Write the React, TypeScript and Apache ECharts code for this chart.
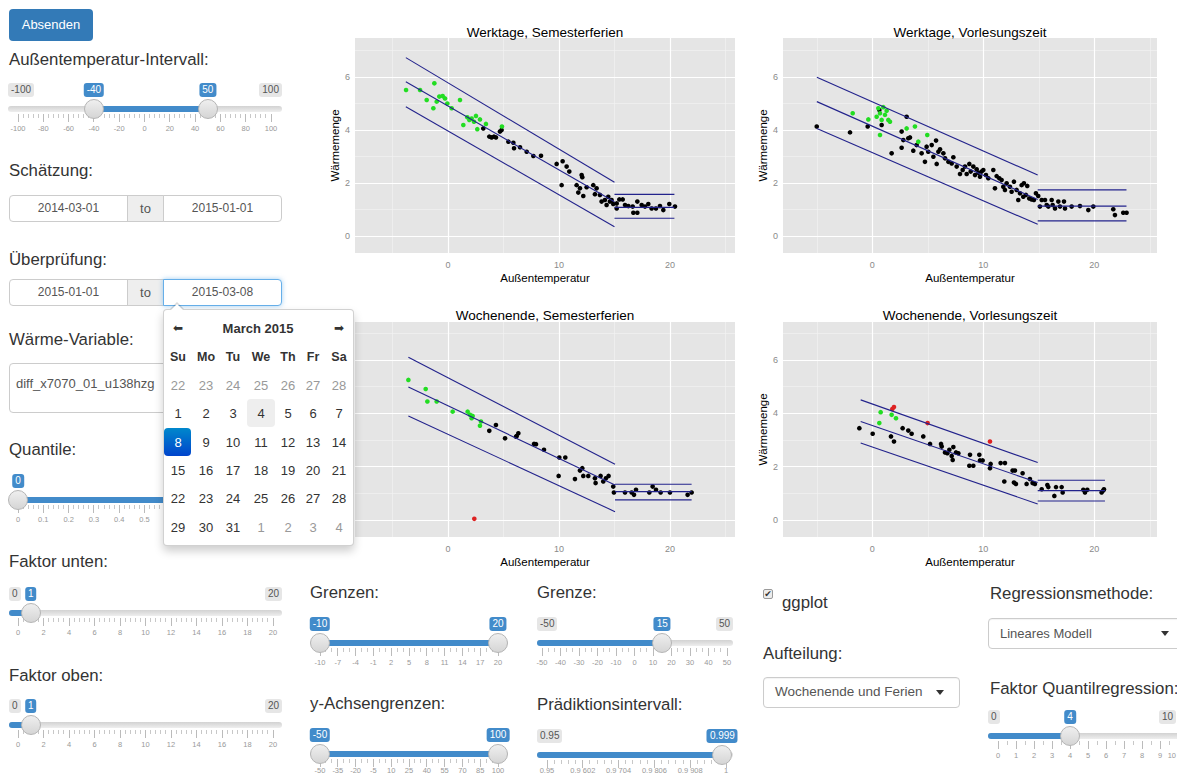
import React, { useEffect, useRef } from "react";
import * as echarts from "echarts";

// ---------------- chart data ----------------
const xTicks = [0, 10, 20];
const xMinorTicks = [-5, 5, 15, 25];
const yTicks = [0, 2, 4, 6];
const yMinorTicks = [1, 3, 5, 7];
const panelTitles = [
  "Werktage, Semesterferien",
  "Werktage, Vorlesungszeit",
  "Wochenende, Semesterferien",
  "Wochenende, Vorlesungszeit",
];
const xName = "Außentemperatur";
const yName = "Wärmemenge";

// Werktage, Semesterferien
const green1 = [[-3.78,5.51],[-2.52,5.51],[-1.92,5.13],[-1.23,5.76],[-1.32,4.82],[-1.02,5.07],[-0.78,5.26],[-0.48,5.28],[-0.27,5.19],[-0.06,5.0],[0.33,4.82],[1.08,5.13],[1.38,4.19],[1.74,4.48],[1.92,4.38],[2.13,4.43],[2.34,4.31],[2.52,4.53],[2.64,4.03],[2.88,4.4],[3.42,4.23],[4.86,4.13]];
const black1 = [[3.18,4.06],[3.72,3.75],[3.93,3.72],[4.14,3.75],[4.32,3.72],[4.68,3.94],[4.83,4.0],[5.44,3.56],[5.89,3.52],[5.95,3.31],[6.49,3.35],[7.09,3.18],[7.69,3.02],[8.38,3.03],[9.79,2.72],[10.33,2.82],[10.24,1.92],[10.69,2.62],[10.93,2.43],[11.59,1.92],[11.74,1.64],[12.04,2.3],[12.1,2.22],[12.19,1.51],[11.89,1.8],[12.49,1.84],[13.09,1.92],[13.39,1.8],[13.24,1.58],[13.69,1.55],[13.84,1.3],[14.14,1.36],[14.29,1.17],[14.44,1.48],[14.59,1.3],[14.74,1.36],[14.89,1.21],[15.2,1.23],[15.2,1.04],[15.44,1.38],[15.74,1.38],[15.95,1.17],[16.25,1.13],[16.64,1.11],[16.7,0.88],[17.06,0.88],[17.06,1.3],[17.45,1.17],[17.75,1.11],[18.05,1.21],[18.35,1.04],[18.74,1.04],[19.1,1.13],[19.4,0.98],[19.94,1.21],[20.45,1.11]];
const red1: number[][] = [];
const fitX1 = [-3.8, 15.0];
const fitLo1 = [4.88, 0.35];
const fitMid1 = [5.82, 1.29];
const fitHi1 = [6.73, 2.03];
const flatX1 = [15.0, 20.4];
const flatY1 = [0.67, 1.08, 1.57];

// Werktage, Vorlesungszeit
const green2 = [[-1.77,4.63],[-0.36,4.4],[0.39,4.5],[0.54,4.82],[0.69,4.63],[0.84,4.38],[0.69,3.81],[0.99,4.86],[1.14,4.57],[1.29,4.73],[1.44,4.38],[1.59,4.31],[3.09,4.06],[3.84,4.13],[4.14,3.56],[4.95,3.81]];
const black2 = [[-5.01,4.13],[-2.01,3.91],[-0.42,4.13],[0.63,4.75],[0.84,4.19],[1.74,3.12],[2.64,3.94],[2.64,3.33],[2.79,3.62],[3.09,4.5],[3.24,3.69],[3.39,3.72],[3.69,3.22],[3.99,3.43],[4.44,3.12],[4.74,2.8],[4.89,3.37],[5.04,3.18],[5.35,3.43],[5.5,2.99],[5.74,3.6],[5.8,2.72],[5.95,3.18],[6.1,3.27],[6.4,3.12],[6.55,2.93],[6.85,2.8],[7.15,2.74],[7.3,2.97],[7.6,2.62],[7.9,2.34],[8.14,2.49],[8.35,2.62],[8.5,2.34],[8.74,2.72],[8.86,2.43],[9.1,2.62],[9.25,2.3],[9.4,2.52],[9.55,2.39],[9.7,2.24],[9.85,2.43],[10.0,2.49],[10.24,2.3],[10.45,2.18],[10.9,2.49],[11.05,1.8],[11.2,2.26],[11.44,2.18],[11.65,2.11],[11.8,1.86],[11.95,1.74],[12.1,1.99],[12.4,1.86],[12.55,1.67],[12.76,2.05],[13.0,1.74],[13.15,1.36],[13.3,1.61],[13.45,1.92],[13.6,1.48],[13.66,1.99],[13.84,1.55],[13.96,1.89],[14.14,1.42],[14.35,1.38],[14.56,1.36],[14.74,1.61],[14.95,1.51],[15.1,1.11],[15.26,1.36],[15.56,1.36],[15.71,1.17],[15.86,1.11],[16.16,1.36],[16.25,1.17],[16.46,1.04],[16.76,1.3],[16.91,1.11],[17.27,1.3],[17.36,1.04],[17.96,1.11],[18.71,1.13],[19.46,0.98],[19.91,1.11],[21.71,1.01],[21.86,0.79],[22.61,0.88],[22.91,0.88]];
const red2: number[][] = [];
const fitX2 = [-5.0, 14.9];
const fitLo2 = [4.06, 0.44];
const fitMid2 = [5.07, 1.38];
const fitHi2 = [5.99, 2.3];
const flatX2 = [14.9, 22.9];
const flatY2 = [0.57, 1.13, 1.74];

// Wochenende, Semesterferien
const green3 = [[-3.57,5.25],[-2.01,4.91],[-1.86,4.44],[-1.02,4.44],[0.42,4.06],[1.77,4.06],[1.98,3.94],[2.22,3.9],[2.13,3.81],[2.97,3.69],[2.88,3.53]];
const black3 = [[3.72,3.34],[4.32,3.56],[5.14,3.06],[6.13,3.12],[6.19,3.15],[6.34,3.25],[7.75,2.85],[7.93,2.84],[8.65,2.63],[10.03,2.34],[10.57,2.34],[9.97,1.65],[11.44,1.53],[11.89,1.85],[12.1,1.94],[12.19,1.65],[12.64,1.65],[13.24,1.56],[13.3,1.38],[13.75,1.65],[13.99,1.44],[14.23,1.56],[14.47,1.65],[14.89,1.25],[14.95,1.03],[15.95,1.03],[16.55,1.03],[16.76,0.94],[16.94,1.13],[18.14,1.03],[18.44,1.25],[18.74,1.13],[19.16,1.03],[20.0,1.03],[21.59,0.94],[21.95,1.03]];
const red3 = [[2.37,0.04]];
const fitX3 = [-3.57, 15.05];
const fitLo3 = [3.9, 0.31];
const fitMid3 = [4.98, 1.31];
const fitHi3 = [6.1, 2.09];
const flatX3 = [15.05, 21.95];
const flatY3 = [0.75, 1.06, 1.34];

// Wochenende, Vorlesungszeit
const green4 = [[0.75,4.04],[0.63,3.63],[1.74,3.94],[2.13,3.81]];
const black4 = [[-1.17,3.44],[0.03,3.23],[1.68,3.13],[1.95,2.94],[2.73,3.44],[3.24,3.35],[3.54,3.23],[4.59,3.13],[5.2,2.85],[6.19,2.85],[6.25,2.75],[6.55,2.53],[6.76,2.5],[6.94,2.63],[7.15,2.4],[7.24,2.25],[7.3,2.73],[7.54,2.53],[7.75,2.5],[8.8,2.44],[8.74,2.03],[9.1,2.03],[9.64,2.44],[9.7,2.23],[9.94,2.23],[10.66,2.1],[10.6,1.94],[11.56,2.13],[11.95,2.13],[11.89,1.44],[12.64,1.85],[12.85,1.85],[12.76,1.4],[12.94,1.35],[13.54,1.75],[13.9,1.35],[14.2,1.53],[14.44,1.38],[14.65,1.35],[15.26,1.15],[15.77,1.31],[15.86,1.23],[16.4,0.9],[16.55,1.23],[17.06,1.23],[17.15,1.03],[19.01,1.13],[19.16,1.03],[19.37,1.13],[20.66,1.03],[20.81,1.1],[20.87,1.15]];
const red4 = [[1.8,4.16],[1.95,4.23],[4.98,3.63],[10.6,2.94]];
const fitX4 = [-1.05, 14.9];
const fitLo4 = [2.88, 0.6];
const fitMid4 = [3.69, 1.4];
const fitHi4 = [4.5, 2.15];
const flatX4 = [14.9, 20.96];
const flatY4 = [0.71, 1.1, 1.49];

// ---------------- UI texts ----------------
const calDayNames = ["Su", "Mo", "Tu", "We", "Th", "Fr", "Sa"];
const calDays = [
  ["22", "23", "24", "25", "26", "27", "28"],
  ["1", "2", "3", "4", "5", "6", "7"],
  ["8", "9", "10", "11", "12", "13", "14"],
  ["15", "16", "17", "18", "19", "20", "21"],
  ["22", "23", "24", "25", "26", "27", "28"],
  ["29", "30", "31", "1", "2", "3", "4"],
];
const tempTicks = ["-100", "-80", "-60", "-40", "-20", "0", "20", "40", "60", "80", "100"];
const quantTicks = ["0", "0.1", "0.2", "0.3", "0.4", "0.5", "0.6", "0.7", "0.8", "0.9", "1"];
const faktorTicks = ["0", "2", "4", "6", "8", "10", "12", "14", "16", "18", "20"];
const grenzenTicks = ["-10", "-7", "-4", "-1", "2", "5", "8", "11", "14", "17", "20"];
const yGrenzTicks = ["-50", "-35", "-20", "-5", "10", "25", "40", "55", "70", "85", "100"];
const grenzeTicks = ["-50", "-40", "-30", "-20", "-10", "0", "10", "20", "30", "40", "50"];
const praedTicks = ["0.95", "0.9 602", "0.9 704", "0.9 806", "0.9 908", "1"];
const quantRegTicks = ["0", "1", "2", "3", "4", "5", "6", "7", "8", "9", "10"];

// ---------------- layout ----------------
const FONT = '"Liberation Sans", Arial, Helvetica, sans-serif';
const LINE = "#23238c";
const PAGE_W = 1177;
const panels = [
  { left: 355, top: 38, width: 380, height: 215, xMin: -8.38, xMax: 25.86, yMin: -0.64, yMax: 7.47, gapY: 10, titleY: 32 },
  { left: 783, top: 38, width: 374, height: 215, xMin: -8.05, xMax: 25.65, yMin: -0.64, yMax: 7.47, gapY: 12, titleY: 32 },
  { left: 355, top: 322, width: 380, height: 215, xMin: -8.38, xMax: 25.86, yMin: -0.64, yMax: 7.42, gapY: 10, titleY: 315 },
  { left: 783, top: 322, width: 374, height: 215, xMin: -8.05, xMax: 25.65, yMin: -0.64, yMax: 7.42, gapY: 12, titleY: 315 },
];

function buildOption() {
  const sets = [
    { black: black1, green: green1, red: red1, fx: fitX1, lo: fitLo1, mid: fitMid1, hi: fitHi1, flx: flatX1, fly: flatY1 },
    { black: black2, green: green2, red: red2, fx: fitX2, lo: fitLo2, mid: fitMid2, hi: fitHi2, flx: flatX2, fly: flatY2 },
    { black: black3, green: green3, red: red3, fx: fitX3, lo: fitLo3, mid: fitMid3, hi: fitHi3, flx: flatX3, fly: flatY3 },
    { black: black4, green: green4, red: red4, fx: fitX4, lo: fitLo4, mid: fitMid4, hi: fitHi4, flx: flatX4, fly: flatY4 },
  ];
  const grid: any[] = [];
  const xAxis: any[] = [];
  const yAxis: any[] = [];
  const series: any[] = [];
  const graphic: any[] = [];
  const major = { color: "#ffffff", width: 1.2, type: "solid" };
  const minor = { color: "#f3f3f3", width: 0.6, type: "solid" };
  panels.forEach((p, i) => {
    grid.push({
      left: p.left, top: p.top, width: p.width, height: p.height,
      show: true, backgroundColor: "#E5E5E5", borderWidth: 0, z: 0,
      containLabel: false, outerBoundsMode: "none",
    });
    xAxis.push({
      type: "value", gridIndex: i, min: p.xMin, max: p.xMax,
      axisLine: { show: false },
      axisTick: { show: true, length: 3, customValues: xTicks, lineStyle: { color: "#8a8a8a" } },
      axisLabel: { customValues: xTicks, color: "#8a8a8a", fontSize: 9, margin: 7, fontFamily: FONT },
      splitLine: { show: false },
      name: xName, nameLocation: "middle", nameGap: 19,
      nameTextStyle: { color: "#000", fontSize: 11.5, fontFamily: FONT },
    });
    yAxis.push({
      type: "value", gridIndex: i, min: p.yMin, max: p.yMax,
      axisLine: { show: false },
      axisTick: { show: true, length: 3, customValues: yTicks, lineStyle: { color: "#8a8a8a" } },
      axisLabel: { customValues: yTicks, color: "#8a8a8a", fontSize: 9, margin: 5, fontFamily: FONT },
      splitLine: { show: false },
      name: yName, nameLocation: "middle", nameGap: p.gapY, nameRotate: 90,
      nameTextStyle: { color: "#000", fontSize: 11.5, fontFamily: FONT },
    });
    const s = sets[i];
    const gl: any[] = [];
    xMinorTicks.forEach((v) => gl.push({ xAxis: v, lineStyle: minor }));
    yMinorTicks.forEach((v) => gl.push({ yAxis: v, lineStyle: minor }));
    xTicks.forEach((v) => gl.push({ xAxis: v, lineStyle: major }));
    yTicks.forEach((v) => gl.push({ yAxis: v, lineStyle: major }));
    series.push({
      type: "line", xAxisIndex: i, yAxisIndex: i, z: 1, silent: true,
      symbol: "none", data: [[xTicks[0], yTicks[0]]], lineStyle: { opacity: 0 },
      markLine: { z: 1, silent: true, symbol: ["none", "none"], label: { show: false }, animation: false, data: gl },
    });
    const pts = (data: number[][], color: string) => ({
      type: "scatter", xAxisIndex: i, yAxisIndex: i, z: 3, silent: true,
      symbolSize: 4.6, data, itemStyle: { color, opacity: 1 },
    });
    series.push(pts(s.black, "#000000"));
    series.push(pts(s.green, "#22dd22"));
    series.push(pts(s.red, "#dd2222"));
    const ln = (data: number[][]) => ({
      type: "line", xAxisIndex: i, yAxisIndex: i, z: 4, silent: true,
      symbol: "none", data, lineStyle: { color: LINE, width: 1.1 },
    });
    series.push(ln([[s.fx[0], s.lo[0]], [s.fx[1], s.lo[1]]]));
    series.push(ln([[s.fx[0], s.mid[0]], [s.fx[1], s.mid[1]]]));
    series.push(ln([[s.fx[0], s.hi[0]], [s.fx[1], s.hi[1]]]));
    s.fly.forEach((v) => series.push(ln([[s.flx[0], v], [s.flx[1], v]])));
    graphic.push({
      type: "text", x: p.left + p.width / 2, y: p.titleY, z: 10,
      style: { text: panelTitles[i], fill: "#000", font: `13.5px ${FONT}`, textAlign: "center", textVerticalAlign: "middle" },
    });
  });
  return { animation: false, grid, xAxis, yAxis, series, graphic };
}

// ---------------- UI helpers ----------------
function Txt(props: { x: number; y: number; text: string; size?: number; color?: string; bold?: boolean; center?: boolean; family?: string }) {
  const { x, y, text, size = 16.8, color = "#333", bold = false, center = false, family = FONT } = props;
  const lh = Math.round(size * 1.3);
  return (
    <div style={{ position: "absolute", left: x, top: y - lh / 2, height: lh, lineHeight: lh + "px", fontSize: size, color, fontWeight: bold ? 700 : 400, fontFamily: family, whiteSpace: "nowrap", transform: center ? "translateX(-50%)" : undefined }}>
      {text}
    </div>
  );
}

function Box(props: { x: number; y: number; text: string; blue?: boolean; anchor: "left" | "right" | "center" }) {
  const { x, y, text, blue, anchor } = props;
  const st: any = {
    position: "absolute", top: y - 7, height: 14, lineHeight: "14px", padding: "0 3px", fontSize: 10, fontFamily: FONT,
    borderRadius: 3, whiteSpace: "nowrap", background: blue ? "#428bca" : "#e6e6e6", color: blue ? "#fff" : "#555",
  };
  if (anchor === "left") st.left = x;
  else if (anchor === "right") st.right = PAGE_W - x;
  else { st.left = x; st.transform = "translateX(-50%)"; }
  return <div style={st}>{text}</div>;
}

type SliderProps = {
  left: number; right: number; y: number; p0: number; p1: number; vmin: number; vmax: number;
  from: number; to?: number; minText: string; maxText: string; fromText: string; toText?: string;
  showMin: boolean; showMax: boolean; ticks: string[]; nMinor: number; labelGap?: number; hideLabelsFrom?: number;
};

function Slider(p: SliderProps) {
  const pos = (v: number) => p.p0 + ((v - p.vmin) / (p.vmax - p.vmin)) * (p.p1 - p.p0);
  const hf = pos(p.from);
  const ht = p.to !== undefined ? pos(p.to) : undefined;
  const barL = ht !== undefined ? hf : p.left;
  const barR = ht !== undefined ? ht : hf;
  const n = p.ticks.length;
  const step = (p.p1 - p.p0) / (n - 1);
  const gap = p.labelGap ?? 20;
  const els: any[] = [];
  els.push(<div key="tr" style={{ position: "absolute", left: p.left, top: p.y - 3, width: p.right - p.left, height: 6, borderRadius: 3, background: "linear-gradient(#d2d2d2,#eeeeee)" }} />);
  els.push(<div key="bar" style={{ position: "absolute", left: barL, top: p.y - 3, width: barR - barL, height: 6, borderRadius: 3, background: "#428bca" }} />);
  for (let i = 0; i < n; i++) {
    const x = p.p0 + i * step;
    els.push(<div key={"t" + i} style={{ position: "absolute", left: x - 0.5, top: p.y + 5, width: 1, height: 8, background: "#bbb" }} />);
    if (p.hideLabelsFrom === undefined || x < p.hideLabelsFrom) {
      const overflow = x + 6 > PAGE_W;
      els.push(
        <div key={"l" + i} style={{ position: "absolute", ...(overflow ? { right: 1 } : { left: x, transform: "translateX(-50%)" }), top: p.y + gap - 5, fontSize: 7.5, lineHeight: "10px", color: "#999", fontFamily: FONT, whiteSpace: "nowrap" }}>
          {p.ticks[i]}
        </div>
      );
    }
    if (i < n - 1) {
      for (let k = 1; k <= p.nMinor; k++) {
        const mx = x + (k * step) / (p.nMinor + 1);
        els.push(<div key={"m" + i + "_" + k} style={{ position: "absolute", left: mx - 0.5, top: p.y + 5, width: 1, height: 4, background: "#c8c8c8" }} />);
      }
    }
  }
  if (p.showMin) els.push(<Box key="bmin" x={p.left} y={p.y - 19} text={p.minText} anchor="left" />);
  if (p.showMax) els.push(<Box key="bmax" x={Math.min(p.right, PAGE_W - 1)} y={p.y - 19} text={p.maxText} anchor="right" />);
  els.push(<Box key="bf" x={hf} y={p.y - 19} text={p.fromText} blue anchor="center" />);
  if (ht !== undefined && p.toText) els.push(<Box key="bt" x={ht} y={p.y - 19} text={p.toText} blue anchor="center" />);
  const handle = (x: number, key: string) => (
    <div key={key} style={{ position: "absolute", left: x - 10, top: p.y - 10, width: 20, height: 20, boxSizing: "border-box", borderRadius: "50%", background: "linear-gradient(#efefef,#d5d5d5)", border: "1px solid #b5b5b5" }} />
  );
  els.push(handle(hf, "h1"));
  if (ht !== undefined) els.push(handle(ht, "h2"));
  return <>{els}</>;
}

function DateRange(props: { top: number; a: string; b: string; focus?: boolean }) {
  const { top, a, b, focus } = props;
  const base: any = { position: "absolute", top, height: 27, boxSizing: "border-box", lineHeight: "25px", textAlign: "center", fontSize: 12, fontFamily: FONT, color: "#555", border: "1px solid #ccc", background: "#fff" };
  return (
    <>
      <div style={{ ...base, left: 9, width: 119, borderRadius: "4px 0 0 4px" }}>{a}</div>
      <div style={{ ...base, left: 127, width: 37, background: "#eee", fontSize: 13 }}>to</div>
      <div style={{ ...base, left: 163, width: 119, borderRadius: "0 4px 4px 0", ...(focus ? { borderColor: "#66afe9", boxShadow: "0 0 5px rgba(102,175,233,.6)" } : {}) }}>{b}</div>
    </>
  );
}

function Select(props: { left: number; top: number; width: number; text: string; caretX: number; size: number }) {
  const { left, top, width, text, caretX, size } = props;
  return (
    <>
      <div style={{ position: "absolute", left, top, width, height: 31, boxSizing: "border-box", border: "1px solid #ccc", borderRadius: 4, background: "#fff", boxShadow: "inset 0 1px 1px rgba(0,0,0,.05)" }} />
      <Txt x={left + 12} y={top + 15} text={text} size={size} color="#555" />
      <div style={{ position: "absolute", left: caretX - 4, top: top + 13, width: 0, height: 0, borderLeft: "4px solid transparent", borderRight: "4px solid transparent", borderTop: "5px solid #333" }} />
    </>
  );
}

const calCols = [178, 206, 233, 261, 288, 313, 339];
const calRows = [385, 413, 442, 470, 498, 527];

function Calendar() {
  const els: any[] = [];
  els.push(<div key="pop" style={{ position: "absolute", left: 163, top: 309, width: 191, height: 237, boxSizing: "border-box", background: "#fff", border: "1px solid rgba(0,0,0,0.18)", borderRadius: 4, boxShadow: "0 5px 10px rgba(0,0,0,0.2)" }} />);
  els.push(<div key="car1" style={{ position: "absolute", left: 170, top: 302, width: 0, height: 0, borderLeft: "7px solid transparent", borderRight: "7px solid transparent", borderBottom: "7px solid rgba(0,0,0,0.15)" }} />);
  els.push(<div key="car2" style={{ position: "absolute", left: 171, top: 304, width: 0, height: 0, borderLeft: "6px solid transparent", borderRight: "6px solid transparent", borderBottom: "6px solid #fff" }} />);
  els.push(<Txt key="al" x={178} y={328} text="⬅" size={12} color="#333" center family='"DejaVu Sans", sans-serif' />);
  els.push(<Txt key="ar" x={339} y={328} text="➡" size={12} color="#333" center family='"DejaVu Sans", sans-serif' />);
  els.push(<Txt key="mh" x={258} y={328} text="March 2015" size={13} bold center />);
  calDayNames.forEach((d, c) => els.push(<Txt key={"dn" + c} x={calCols[c]} y={357} text={d} size={12.5} bold center />));
  els.push(<div key="today" style={{ position: "absolute", left: 247, top: 399, width: 28, height: 28, borderRadius: 4, background: "#eee" }} />);
  els.push(<div key="act" style={{ position: "absolute", left: 164, top: 428, width: 27, height: 28, borderRadius: 4, background: "linear-gradient(#0088cc,#0044cc)" }} />);
  calDays.forEach((row, r) =>
    row.forEach((d, c) => {
      const grey = r === 0 || (r === 5 && c >= 3);
      const active = r === 2 && c === 0;
      els.push(<Txt key={"d" + r + "_" + c} x={calCols[c]} y={calRows[r]} text={d} size={13} color={active ? "#fff" : grey ? "#999" : "#333"} center />);
    })
  );
  return <>{els}</>;
}

// ---------------- App ----------------
export default function App() {
  const ref = useRef<HTMLDivElement>(null);
  useEffect(() => {
    if (!ref.current) return;
    const chart = echarts.init(ref.current, undefined, { renderer: "svg" });
    chart.setOption(buildOption() as any);
    return () => chart.dispose();
  }, []);
  return (
    <div style={{ position: "absolute", left: 0, top: 0, width: PAGE_W, height: 778, overflow: "hidden", background: "#fff", fontFamily: FONT }}>
      <div ref={ref} style={{ position: "absolute", left: 0, top: 0, width: PAGE_W, height: 778 }} />
      <div style={{ position: "absolute", left: 0, top: 0, width: PAGE_W, height: 778 }}>
        {/* column 1 */}
        <div style={{ position: "absolute", left: 9, top: 9, width: 84, height: 32, borderRadius: 4, background: "#337ab7", color: "#fff", fontSize: 13, lineHeight: "32px", textAlign: "center", fontFamily: FONT }}>Absenden</div>
        <Txt x={9} y={60} text="Außentemperatur-Intervall:" />
        <Slider left={8} right={282} y={109} p0={18} p1={271} vmin={-100} vmax={100} from={-40} to={50} minText="-100" maxText="100" fromText="-40" toText="50" showMin showMax ticks={tempTicks} nMinor={4} />
        <Txt x={9} y={171} text="Schätzung:" />
        <DateRange top={195} a="2014-03-01" b="2015-01-01" />
        <Txt x={9} y={260} text="Überprüfung:" />
        <DateRange top={279} a="2015-01-01" b="2015-03-08" focus />
        <Txt x={9} y={340} text="Wärme-Variable:" />
        <div style={{ position: "absolute", left: 9, top: 363, width: 273, height: 50, boxSizing: "border-box", border: "1px solid #ccc", borderRadius: 4, background: "#fff" }} />
        <Txt x={16} y={383} text="diff_x7070_01_u138hzg" size={13} color="#555" />
        <Txt x={9} y={450} text="Quantile:" />
        <Slider left={9} right={282} y={500} p0={18} p1={271} vmin={0} vmax={1} from={0} to={1} minText="0" maxText="1" fromText="0" toText="1" showMin={false} showMax={false} ticks={quantTicks} nMinor={4} hideLabelsFrom={160} />
        <Txt x={9} y={562} text="Faktor unten:" />
        <Slider left={9} right={282} y={613} p0={18} p1={273} vmin={0} vmax={20} from={1} minText="0" maxText="20" fromText="1" showMin showMax ticks={faktorTicks} nMinor={4} />
        <Txt x={9} y={676} text="Faktor oben:" />
        <Slider left={9} right={282} y={725} p0={18} p1={273} vmin={0} vmax={20} from={1} minText="0" maxText="20" fromText="1" showMin showMax ticks={faktorTicks} nMinor={4} />
        {/* column 2 */}
        <Txt x={310} y={593} text="Grenzen:" />
        <Slider left={310} right={508} y={643} p0={320} p1={498} vmin={-10} vmax={20} from={-10} to={20} minText="-10" maxText="20" fromText="-10" toText="20" showMin={false} showMax={false} ticks={grenzenTicks} nMinor={2} />
        <Txt x={310} y={704} text="y-Achsengrenzen:" />
        <Slider left={310} right={508} y={754} p0={320} p1={498} vmin={-50} vmax={100} from={-50} to={100} minText="-50" maxText="100" fromText="-50" toText="100" showMin={false} showMax={false} ticks={yGrenzTicks} nMinor={2} labelGap={17} />
        {/* column 3 */}
        <Txt x={537} y={593} text="Grenze:" />
        <Slider left={537} right={733} y={643} p0={542} p1={727} vmin={-50} vmax={50} from={15} minText="-50" maxText="50" fromText="15" showMin showMax ticks={grenzeTicks} nMinor={2} />
        <Txt x={537} y={705} text="Prädiktionsintervall:" />
        <Slider left={537} right={733} y={755} p0={547} p1={726} vmin={0.95} vmax={1} from={0.999} minText="0.95" maxText="1" fromText="0.999" showMin showMax={false} ticks={praedTicks} nMinor={4} labelGap={16} />
        {/* column 4 */}
        <div style={{ position: "absolute", left: 763, top: 589, width: 10, height: 10, boxSizing: "border-box", border: "1px solid #9a9a9a", borderRadius: 2, background: "#ececec", fontSize: 9, lineHeight: "8px", textAlign: "center", color: "#333", fontFamily: '"DejaVu Sans", sans-serif' }}>✔</div>
        <Txt x={782} y={603} text="ggplot" />
        <Txt x={763} y={654} text="Aufteilung:" />
        <Select left={763} top={677} width={197} text="Wochenende und Ferien" caretX={940} size={13.5} />
        {/* column 5 */}
        <Txt x={990} y={594} text="Regressionsmethode:" />
        <Select left={988} top={618} width={210} text="Lineares Modell" caretX={1165} size={13} />
        <Txt x={990} y={689} text="Faktor Quantilregression:" />
        <Slider left={988} right={1188} y={736} p0={998} p1={1178} vmin={0} vmax={10} from={4} minText="0" maxText="10" fromText="4" showMin showMax ticks={quantRegTicks} nMinor={1} />
        <Calendar />
      </div>
    </div>
  );
}
